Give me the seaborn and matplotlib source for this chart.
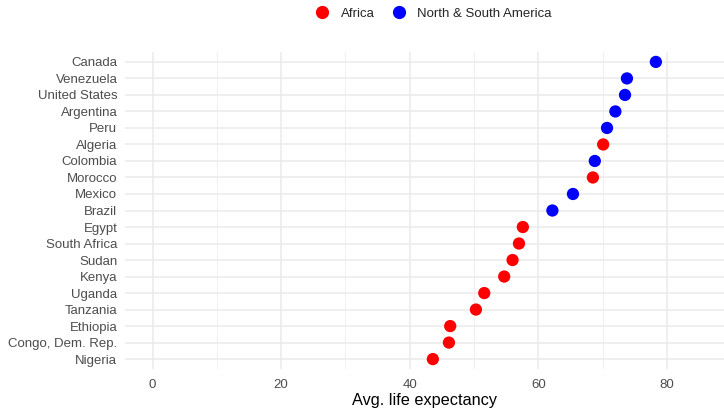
import matplotlib
matplotlib.use("Agg")
import matplotlib.pyplot as plt
from matplotlib.lines import Line2D
from matplotlib.ticker import MultipleLocator
import seaborn as sns
import pandas as pd

# Countries listed bottom to top, with average life expectancy and continent
countries = ["Nigeria", "Congo, Dem. Rep.", "Ethiopia", "Tanzania", "Uganda",
             "Kenya", "Sudan", "South Africa", "Egypt", "Brazil", "Mexico",
             "Morocco", "Colombia", "Algeria", "Peru", "Argentina",
             "United States", "Venezuela", "Canada"]
life_exp = [43.6, 46.1, 46.3, 50.3, 51.6, 54.7, 56.0, 57.0, 57.6, 62.2, 65.4,
            68.5, 68.8, 70.1, 70.7, 72.0, 73.5, 73.8, 78.3]
continent = ["Africa"] * 9 + ["North & South America", "North & South America",
             "Africa", "North & South America", "Africa",
             "North & South America", "North & South America",
             "North & South America", "North & South America",
             "North & South America"]
groups = ["Africa", "North & South America"]
colors = {"Africa": "#FF0000", "North & South America": "#0000FF"}
x_ticks = [0, 20, 40, 60, 80]

df = pd.DataFrame({"country": countries, "life": life_exp, "continent": continent})

sns.set_theme(style="white")
plt.rcParams["font.family"] = ["Liberation Sans", "DejaVu Sans"]

fig = plt.figure(figsize=(7.24, 4.08), dpi=100)
ax = fig.add_axes([125 / 724, 1 - 369 / 408, 599 / 724, 317 / 408])

sns.scatterplot(data=df, x="life", y="country", hue="continent",
                hue_order=groups, palette=colors, s=78, edgecolor="none",
                linewidth=0, legend=False, ax=ax, zorder=3)

ax.set_xlim(-4.3, 88.9)
ax.set_ylim(-0.6, len(countries) - 0.4)
ax.set_xticks(x_ticks)
ax.xaxis.set_minor_locator(MultipleLocator(10))
ax.grid(True, which="major", axis="both", color="#EBEBEB", linewidth=1.1, zorder=0)
ax.grid(True, which="minor", axis="x", color="#EBEBEB", linewidth=0.55, zorder=0)
ax.set_axisbelow(True)
for sp in ax.spines.values():
    sp.set_visible(False)
ax.tick_params(axis="both", which="both", length=0, labelsize=9.5,
               labelcolor="#4D4D4D")
ax.tick_params(axis="y", pad=5.5)
ax.tick_params(axis="x", pad=7.5)
ax.set_xlabel("Avg. life expectancy", fontsize=11.7, color="black", labelpad=1.5)
ax.set_ylabel("")

handles = [Line2D([], [], marker="o", linestyle="", markersize=9.5,
                  markerfacecolor=colors[g], markeredgecolor="none", label=g)
           for g in groups]
fig.legend(handles=handles, loc="center", bbox_to_anchor=(433 / 724, 1 - 14 / 408),
           ncol=2, frameon=False, fontsize=9.5, handletextpad=0.8,
           columnspacing=1.2, handlelength=1.2)

fig.savefig("out.png", dpi=100)
